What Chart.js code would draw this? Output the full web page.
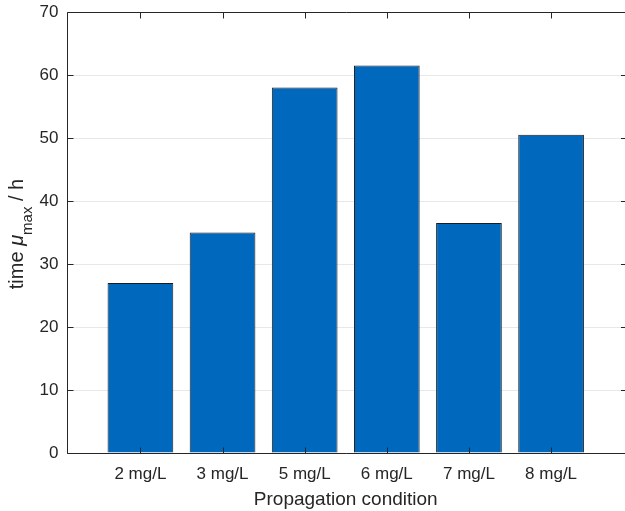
<!DOCTYPE html>
<html>
<head>
  <meta charset="utf-8" />
  <title>time mu_max by propagation condition</title>
  <script src="https://cdn.jsdelivr.net/npm/chart.js"></script>
  <style>
    html, body { margin: 0; padding: 0; background: #fff; }
    #wrap { width: 625px; height: 511px; }
  </style>
</head>
<body>
  <div id="wrap"><canvas id="barChart" width="625" height="511"></canvas></div>

  <script>
    // Data
    const categories = ['2 mg/L', '3 mg/L', '5 mg/L', '6 mg/L', '7 mg/L', '8 mg/L'];
    const timeMuMax = [27, 35, 58, 61.5, 36.5, 50.5];
    const yTickValues = [0, 10, 20, 30, 40, 50, 60, 70];

    const AXIS_COLOR = '#262626';
    const FONT = '"Liberation Sans", Arial, Helvetica, sans-serif';

    // MATLAB-like box with inward ticks + y label with subscript
    // (the right edge of the box falls just outside the picture, so only its ticks show)
    const matlabBox = {
      id: 'matlabBox',
      afterDraw(chart) {
        const ctx = chart.ctx;
        const a = chart.chartArea;
        const xs = chart.scales.x, ys = chart.scales.y;
        const tl = 6;
        const L = Math.round(a.left) + 0.5, T = Math.round(a.top) + 0.5, B = Math.round(a.bottom) + 0.5;
        ctx.save();
        ctx.strokeStyle = AXIS_COLOR;
        ctx.lineWidth = 1;
        ctx.beginPath();
        ctx.moveTo(a.right + 2, T); ctx.lineTo(L, T); ctx.lineTo(L, B); ctx.lineTo(a.right + 2, B);
        xs.ticks.forEach(t => {
          const px = Math.round(xs.getPixelForValue(t.value)) + 0.5;
          ctx.moveTo(px, B); ctx.lineTo(px, B - tl);
          ctx.moveTo(px, T); ctx.lineTo(px, T + tl);
        });
        ys.ticks.forEach(t => {
          const py = Math.round(ys.getPixelForValue(t.value)) + 0.5;
          ctx.moveTo(L, py); ctx.lineTo(L + tl, py);
          ctx.moveTo(a.right + 2, py); ctx.lineTo(a.right + 2 - tl, py);
        });
        ctx.stroke();

        // y axis label: "time μmax / h"
        ctx.translate(23, 234);
        ctx.rotate(-Math.PI / 2);
        ctx.fillStyle = AXIS_COLOR;
        ctx.textBaseline = 'alphabetic';
        const parts = [
          { t: 'time ', f: '20px ' + FONT, dy: 0 },
          { t: 'μ', f: 'italic 20px ' + FONT, dy: 0 },
          { t: 'max', f: '15px ' + FONT, dy: 9 },
          { t: ' / h', f: '20px ' + FONT, dy: 0 }
        ];
        let total = 0;
        parts.forEach(p => { ctx.font = p.f; p.w = ctx.measureText(p.t).width; total += p.w; });
        let x = -total / 2;
        parts.forEach(p => {
          ctx.font = p.f;
          ctx.fillText(p.t, x, p.dy);
          x += p.w;
        });
        ctx.restore();
      }
    };

    const ctx = document.getElementById('barChart').getContext('2d');
    new Chart(ctx, {
      type: 'bar',
      data: {
        datasets: [{
          data: timeMuMax.map((v, i) => ({ x: i + 1, y: v })),
          backgroundColor: '#0068BD',
          borderColor: '#1c1c1c',
          borderWidth: 1,
          categoryPercentage: 1.0,
          barPercentage: 0.8
        }]
      },
      options: {
        responsive: false,
        animation: false,
        layout: { padding: { top: 12, right: 0, left: 0, bottom: 0 } },
        plugins: {
          legend: { display: false },
          tooltip: { enabled: false }
        },
        scales: {
          x: {
            type: 'linear',
            offset: false,
            min: 0.1,
            max: 6.9,
            afterBuildTicks: (scale) => {
              scale.ticks = categories.map((c, i) => ({ value: i + 1 }));
            },
            afterFit: (scale) => {
              scale.height = 58;
              scale.paddingLeft = 0;
              scale.paddingRight = 0;
            },
            grid: { display: false, drawTicks: false, offset: false },
            border: { display: false },
            ticks: {
              padding: 11,
              color: AXIS_COLOR,
              font: { family: FONT, size: 17 },
              callback: (v) => categories[v - 1]
            },
            title: {
              display: true,
              text: 'Propagation condition',
              color: AXIS_COLOR,
              font: { family: FONT, size: 19 },
              padding: { top: 0, bottom: 0 }
            }
          },
          y: {
            min: 0,
            max: 70,
            afterBuildTicks: (scale) => {
              scale.ticks = yTickValues.map(v => ({ value: v }));
            },
            afterFit: (scale) => {
              scale.width = 66.5;
              scale.paddingTop = 0;
              scale.paddingBottom = 0;
            },
            grid: { color: '#e8e8e8', drawTicks: false },
            border: { display: false },
            ticks: {
              padding: 8,
              color: AXIS_COLOR,
              font: { family: FONT, size: 17 }
            }
          }
        }
      },
      plugins: [matlabBox]
    });
  </script>
</body>
</html>
